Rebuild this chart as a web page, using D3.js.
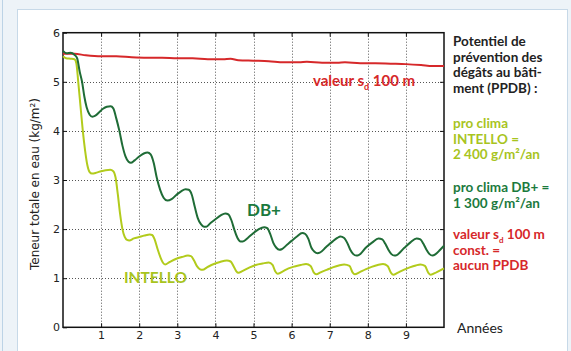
<!DOCTYPE html>
<html>
<head>
<meta charset="utf-8">
<script src="https://cdn.jsdelivr.net/npm/d3@7"></script>
<style>
  html, body { margin: 0; padding: 0; background: #edf3f8; }
  svg { display: block; }
</style>
</head>
<body>
<svg id="chart" width="571" height="351"></svg>
<script>
// Total water content (kg/m²) over ten years, three vapour retarders
const years = [0, 1, 2, 3, 4, 5, 6, 7, 8, 9, 10];
const xTickValues = [1, 2, 3, 4, 5, 6, 7, 8, 9];
const yTickValues = [0, 1, 2, 3, 4, 5, 6];

// sd 100 m constant (red)
const sd100 = [
  [0.00, 5.57], [0.30, 5.57], [0.60, 5.54], [1.00, 5.52], [1.40, 5.52], [1.80, 5.50],
  [2.20, 5.49], [2.60, 5.49], [3.00, 5.48], [3.40, 5.48], [3.80, 5.46], [4.20, 5.46],
  [4.40, 5.47], [4.60, 5.44], [5.00, 5.43], [5.40, 5.42], [5.80, 5.40], [6.20, 5.40],
  [6.40, 5.41], [6.80, 5.39], [7.20, 5.39], [7.40, 5.40], [7.80, 5.38], [8.20, 5.38],
  [8.60, 5.37], [9.00, 5.36], [9.40, 5.34], [9.70, 5.32], [10.00, 5.32]
];

// pro clima DB+ (dark green)
const dbPlus = [
  [0.00, 5.63], [0.10, 5.58], [0.20, 5.59], [0.30, 5.55], [0.37, 5.48], [0.44, 5.20],
  [0.50, 5.00], [0.56, 4.70], [0.62, 4.48], [0.70, 4.33], [0.77, 4.29], [0.85, 4.31],
  [0.95, 4.38], [1.05, 4.45], [1.15, 4.49], [1.25, 4.50], [1.32, 4.46], [1.40, 4.25],
  [1.48, 4.00], [1.56, 3.70], [1.64, 3.48], [1.72, 3.37], [1.78, 3.35], [1.88, 3.40],
  [2.00, 3.48], [2.12, 3.54], [2.22, 3.56], [2.30, 3.52], [2.38, 3.35], [2.46, 3.05],
  [2.55, 2.80], [2.64, 2.64], [2.74, 2.58], [2.85, 2.61], [2.98, 2.70], [3.10, 2.77],
  [3.22, 2.81], [3.30, 2.80], [3.38, 2.70], [3.46, 2.45], [3.54, 2.22], [3.62, 2.10],
  [3.70, 2.05], [3.76, 2.05], [3.88, 2.13], [4.00, 2.20], [4.14, 2.28], [4.26, 2.32],
  [4.34, 2.30], [4.42, 2.18], [4.50, 1.98], [4.58, 1.82], [4.66, 1.75], [4.72, 1.75],
  [4.85, 1.82], [5.00, 1.92], [5.14, 2.00], [5.28, 2.04], [5.36, 2.02], [5.44, 1.90],
  [5.52, 1.72], [5.60, 1.62], [5.68, 1.58], [5.74, 1.59], [5.88, 1.68], [6.00, 1.76],
  [6.14, 1.85], [6.28, 1.92], [6.36, 1.90], [6.44, 1.80], [6.52, 1.62], [6.60, 1.54],
  [6.68, 1.51], [6.74, 1.52], [6.90, 1.63], [7.08, 1.75], [7.20, 1.82], [7.28, 1.85],
  [7.38, 1.82], [7.46, 1.72], [7.54, 1.58], [7.62, 1.49], [7.70, 1.46], [7.76, 1.47],
  [7.96, 1.63], [8.12, 1.73], [8.28, 1.81], [8.38, 1.79], [8.46, 1.70], [8.54, 1.58],
  [8.62, 1.49], [8.70, 1.46], [8.76, 1.47], [8.96, 1.62], [9.12, 1.73], [9.28, 1.81],
  [9.38, 1.79], [9.46, 1.70], [9.54, 1.58], [9.62, 1.49], [9.70, 1.46], [9.78, 1.49],
  [9.90, 1.58], [10.00, 1.66]
];

// pro clima INTELLO (yellow-green)
const intello = [
  [0.00, 5.52], [0.08, 5.48], [0.20, 5.47], [0.30, 5.46], [0.35, 5.38], [0.40, 5.00],
  [0.46, 4.50], [0.52, 4.00], [0.58, 3.60], [0.64, 3.30], [0.70, 3.16], [0.76, 3.13],
  [0.88, 3.15], [1.00, 3.18], [1.12, 3.20], [1.24, 3.21], [1.32, 3.18], [1.38, 3.05],
  [1.44, 2.70], [1.50, 2.30], [1.56, 2.00], [1.62, 1.84], [1.68, 1.78], [1.74, 1.77],
  [1.86, 1.81], [2.00, 1.84], [2.14, 1.87], [2.28, 1.89], [2.34, 1.88], [2.40, 1.80],
  [2.48, 1.60], [2.56, 1.42], [2.62, 1.32], [2.68, 1.28], [2.80, 1.33], [2.96, 1.39],
  [3.12, 1.43], [3.28, 1.46], [3.36, 1.45], [3.44, 1.36], [3.52, 1.24], [3.60, 1.18],
  [3.66, 1.17], [3.80, 1.23], [3.96, 1.29], [4.12, 1.33], [4.30, 1.36], [4.40, 1.34],
  [4.48, 1.24], [4.55, 1.14], [4.60, 1.11], [4.72, 1.15], [4.90, 1.22], [5.06, 1.27],
  [5.24, 1.30], [5.40, 1.32], [5.50, 1.27], [5.57, 1.14], [5.63, 1.09], [5.75, 1.13],
  [5.92, 1.20], [6.08, 1.24], [6.24, 1.27], [6.38, 1.29], [6.50, 1.25], [6.58, 1.12],
  [6.65, 1.08], [6.76, 1.12], [6.92, 1.17], [7.08, 1.22], [7.24, 1.26], [7.38, 1.28],
  [7.52, 1.25], [7.60, 1.12], [7.66, 1.08], [7.78, 1.12], [7.94, 1.18], [8.10, 1.23],
  [8.26, 1.27], [8.40, 1.29], [8.52, 1.25], [8.61, 1.11], [8.67, 1.07], [8.78, 1.11],
  [8.94, 1.17], [9.10, 1.22], [9.26, 1.26], [9.38, 1.28], [9.50, 1.25], [9.59, 1.11],
  [9.65, 1.07], [9.80, 1.12], [10.00, 1.20]
];

// side note texts
const noteTitle = ["Potentiel de", "prévention des", "dégâts au bâti-", "ment (PPDB) :"];
const noteIntello = ["pro clima", "INTELLO =", "2 400 g/m²/an"];
const noteDbPlus = ["pro clima DB+ =", "1 300 g/m²/an"];
const noteSd = ["const. =", "aucun PPDB"];

const RED = "#d6282a", DARK = "#1f6c36", LIME = "#b2cb1c";
const DARK_TXT = "#1b7a3d", LIME_TXT = "#a8c41e";

const svg = d3.select("#chart");

// frame
svg.append("line").attr("x1", 2.5).attr("x2", 2.5).attr("y1", 0).attr("y2", 351)
  .attr("stroke", "#bcd3e6").attr("stroke-width", 1);
svg.append("rect").attr("x", 17.5).attr("y", 9.5).attr("width", 550).attr("height", 345)
  .attr("fill", "#ffffff").attr("stroke", "#c7d9e8").attr("stroke-width", 1);

const x = d3.scaleLinear().domain([years[0], years[years.length - 1]]).range([63, 444]);
const y = d3.scaleLinear().domain([0, 6]).range([327.3, 32.7]);

// dotted grid
const grid = svg.append("g").attr("stroke", "#555").attr("stroke-width", 1)
  .attr("stroke-dasharray", "1,2");
grid.selectAll("line.v").data(xTickValues).join("line").attr("class", "v")
  .attr("x1", d => Math.round(x(d)) + 0.5).attr("x2", d => Math.round(x(d)) + 0.5)
  .attr("y1", y(6)).attr("y2", y(0));
grid.selectAll("line.h").data(yTickValues.filter(d => d > 0 && d < 6)).join("line").attr("class", "h")
  .attr("y1", d => Math.round(y(d)) + 0.5).attr("y2", d => Math.round(y(d)) + 0.5)
  .attr("x1", x(0)).attr("x2", x(10));

// axes
const tickFont = "DejaVu Sans, sans-serif";
const styleAxis = g => {
  g.select(".domain").remove();
  g.selectAll(".tick line").attr("stroke", "#111").attr("stroke-width", 1);
  g.selectAll(".tick text").attr("font-family", tickFont).attr("font-size", 11).attr("fill", "#222");
};
svg.append("g").attr("transform", `translate(0,${y(0)})`)
  .call(d3.axisBottom(x).tickValues(xTickValues).tickFormat(d3.format("d")).tickSize(-4).tickPadding(4))
  .call(styleAxis);
svg.append("g").attr("transform", `translate(0,${y(6)})`)
  .call(d3.axisTop(x).tickValues(xTickValues).tickFormat("").tickSize(-4))
  .call(styleAxis);
svg.append("g").attr("transform", `translate(${x(0)},0)`)
  .call(d3.axisLeft(y).tickValues(yTickValues).tickFormat(d3.format("d")).tickSize(-4).tickPadding(3))
  .call(styleAxis);
svg.append("g").attr("transform", `translate(${x(10)},0)`)
  .call(d3.axisRight(y).tickValues(yTickValues.filter(d => d > 0 && d < 6)).tickFormat("").tickSize(-4))
  .call(styleAxis);

// plot box
svg.append("rect").attr("x", x(0)).attr("y", y(6)).attr("width", x(10) - x(0)).attr("height", y(0) - y(6))
  .attr("fill", "none").attr("stroke", "#111").attr("stroke-width", 1.5);

// curves
const line = d3.line().x(d => x(d[0])).y(d => y(d[1])).curve(d3.curveMonotoneX);
[[sd100, RED], [intello, LIME], [dbPlus, DARK]].forEach(([data, color]) => {
  svg.append("path").datum(data).attr("d", line).attr("fill", "none")
    .attr("stroke", color).attr("stroke-width", 2).attr("stroke-linejoin", "round");
});

// y-axis title
svg.append("text")
  .attr("transform", `translate(39,${(y(0) + y(6)) / 2 + 4}) rotate(-90)`)
  .attr("text-anchor", "middle").attr("font-family", tickFont).attr("font-size", 12).attr("fill", "#222")
  .text("Teneur totale en eau (kg/m²)");

// in-plot labels
const labelFont = "Lato, 'Open Sans', sans-serif";
const sdLabel = svg.append("text").attr("x", 313).attr("y", 86)
  .attr("font-family", labelFont).attr("font-weight", "bold").attr("font-size", 15).attr("fill", RED);
sdLabel.append("tspan").text("valeur s");
sdLabel.append("tspan").attr("font-size", 9).attr("dy", 4).text("d");
sdLabel.append("tspan").attr("dy", -4).text(" 100 m");

svg.append("text").attr("x", 247).attr("y", 216)
  .attr("font-family", labelFont).attr("font-weight", "bold").attr("font-size", 17).attr("fill", DARK_TXT)
  .text("DB+");
svg.append("text").attr("x", 124).attr("y", 283)
  .attr("font-family", labelFont).attr("font-weight", "bold").attr("font-size", 15.5).attr("fill", LIME_TXT)
  .text("INTELLO");

// side notes, one text per line
const NOTE_SIZE = 13.5, NOTE_STEP = 15.6, NOTE_X = 453;
const noteLine = (s, yy, color, weight) => svg.append("text")
  .attr("x", NOTE_X).attr("y", yy)
  .attr("font-family", labelFont).attr("font-weight", weight || "bold")
  .attr("font-size", NOTE_SIZE).attr("fill", color).text(s);
[[noteTitle, 46, "#222"], [noteIntello, 128, LIME_TXT], [noteDbPlus, 192, DARK_TXT]]
  .forEach(([lines, y0, color]) => lines.forEach((s, i) => noteLine(s, y0 + i * NOTE_STEP, color)));

const sdNote = svg.append("text").attr("x", NOTE_X).attr("y", 239)
  .attr("font-family", labelFont).attr("font-weight", "bold").attr("font-size", NOTE_SIZE).attr("fill", RED);
sdNote.append("tspan").text("valeur s");
sdNote.append("tspan").attr("font-size", 8).attr("dy", 4).text("d");
sdNote.append("tspan").attr("dy", -4).text(" 100 m");
noteSd.forEach((s, i) => noteLine(s, 239 + (i + 1) * NOTE_STEP, RED));

svg.append("text").attr("x", 457).attr("y", 333)
  .attr("font-family", labelFont).attr("font-size", 14).attr("fill", "#222").text("Années");
</script>
</body>
</html>
